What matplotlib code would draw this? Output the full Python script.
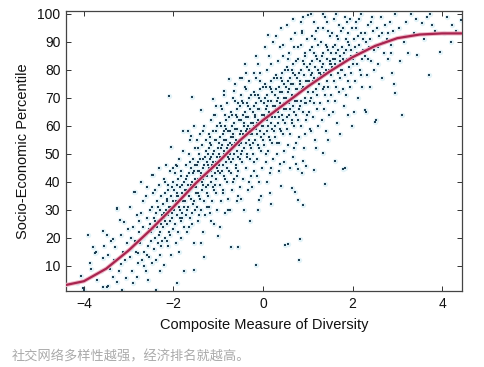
import matplotlib
matplotlib.use("Agg")
import matplotlib.pyplot as plt

plt.rcParams['font.family'] = ['Liberation Sans', 'DejaVu Sans']

# fitted curve
curve_x = [-4.45, -4.0, -3.5, -3.0, -2.5, -2.0, -1.5, -1.0, -0.5, 0.0,
           0.5, 1.0, 1.5, 2.0, 2.5, 3.0, 3.5, 4.0, 4.45]
curve_y = [3.0, 4.5, 9.0, 15.5, 23.0, 31.0, 39.5, 47.0, 55.0, 62.0,
           68.0, 74.0, 79.5, 84.5, 88.5, 91.3, 92.6, 93.0, 93.0]

# scatter points "x,y", estimated column by column
left_pts = """
-4.06,6.4 -4.02,2.1 -3.99,1.4 -4.15,4
-3.91,21.1 -3.87,11 -3.80,16.9 -3.76,14.5 -3.74,14.8 -3.57,22.5 -3.48,21.1 -3.57,12.7 -3.57,2.6 -3.49,2.6 -3.46,2.9 -3.62,8 -3.7,5 -3.85,9 -3.55,17
-3.39,18.8 -3.35,19.5 -3.31,16.9 -3.27,30.2 -3.26,30.6 -3.27,4.4 -3.2,26.4 -3.16,21.1 -3.11,25.8 -3.08,12.1 -3.05,5.6 -3.15,1.4 -3.42,9 -3.33,12 -3.22,8 -3.12,15 -3.03,18 -3.45,14 -3.18,10.5 -3.01,23 -3.36,6
-2.98,13 -2.95,20 -2.93,8 -2.9,24 -2.88,36.5 -2.86,36.3 -2.84,15 -2.82,28 -2.8,14.5 -2.78,11 -2.76,22 -2.97,31 -2.91,4 -2.85,19 -2.77,26 -2.81,6 -2.94,16
-2.74,18 -2.72,29 -2.7,12 -2.69,24 -2.67,33 -2.65,15 -2.63,21 -2.62,8 -2.6,27 -2.58,38 -2.57,17 -2.55,23 -2.54,13 -2.52,30 -2.51,19 -2.73,40 -2.66,10 -2.61,35 -2.56,5 -2.53,25 -2.68,20 -2.59,14
-2.49,22 -2.48,31 -2.47,42.5 -2.46,42.3 -2.45,36 -2.44,16 -2.43,27 -2.42,20 -2.41,37 -2.4,1.5 -2.39,29 -2.38,12 -2.37,24 -2.36,33 -2.35,18 -2.34,26 -2.33,39 -2.32,21 -2.31,30 -2.3,14 -2.29,8 -2.28,25 -2.27,35 -2.26,19 -2.25,28 -2.46,23 -2.41,26 -2.35,31 -2.3,22 -2.27,17 -2.33,45 -2.48,11
-2.24,24 -2.23,32 -2.22,41 -2.21,10.4 -2.2,27 -2.19,36 -2.18,20 -2.17,30 -2.16,46 -2.15,25 -2.14,34 -2.13,17 -2.12,28 -2.11,39 -2.1,70.7 -2.1,22 -2.09,31 -2.08,44 -2.07,26 -2.06,52.4 -2.06,35 -2.05,14 -2.04,29 -2.03,38 -2.02,44.9 -2.02,23 -2.01,33 -2.22,29 -2.19,26 -2.15,33 -2.12,37 -2.08,21 -2.05,31 -2.03,27 -2.18,40 -2.14,19 -2.1,30 -2.0,40
-1.99,30 -1.98,37 -1.97,25 -1.96,43 -1.95,33 -1.94,18 -1.93,39 -1.92,28 -1.91,45.5 -1.91,3.8 -1.9,35 -1.89,22 -1.88,31 -1.87,48 -1.86,38 -1.85,27 -1.84,34 -1.83,42 -1.82,20 -1.81,36 -1.8,29 -1.79,51 -1.78,58 -1.78,33 -1.77,40 -1.76,8 -1.76,24 -1.75,37 -1.97,32 -1.93,35 -1.9,41 -1.86,30 -1.83,26 -1.8,39 -1.95,46 -1.88,15 -1.84,44 -1.77,31 -1.92,36 -1.81,27
-1.74,33 -1.73,41 -1.72,28 -1.71,46 -1.7,36 -1.69,22 -1.68,39 -1.67,31 -1.66,50 -1.65,43 -1.64,27 -1.63,37 -1.62,55 -1.61,56.4 -1.61,34 -1.6,45 -1.59,70.2 -1.59,25 -1.58,40 -1.57,32 -1.56,48 -1.55,18 -1.54,38 -1.53,8.6 -1.53,44 -1.52,30 -1.51,52 -1.5,36 -1.72,37 -1.69,42 -1.66,35 -1.63,47 -1.6,39 -1.57,43 -1.54,33 -1.51,41 -1.7,30 -1.65,24 -1.58,29 -1.52,46 -1.67,58 -1.55,60
"""

mid_pts = """
-1.49,38 -1.48,46 -1.47,31 -1.46,52 -1.45,41 -1.44,26 -1.43,44 -1.42,35 -1.41,57 -1.4,48 -1.39,65.7 -1.39,30 -1.38,42 -1.37,37 -1.36,53 -1.35,22 -1.34,45 -1.33,39 -1.32,60 -1.31,13.3 -1.31,33 -1.3,49 -1.29,28 -1.28,43 -1.27,55 -1.26,36 -1.25,47 -1.48,40 -1.45,44 -1.42,50 -1.39,43 -1.36,40 -1.33,48 -1.3,42 -1.27,38 -1.47,55 -1.43,28 -1.4,34 -1.35,58 -1.32,46 -1.28,51 -1.44,36 -1.38,18 -1.26,31 -1.46,47 -1.34,41
-1.24,42 -1.23,50 -1.22,35 -1.21,57 -1.2,45 -1.19,29 -1.18,48 -1.17,40 -1.16,62 -1.15,53 -1.14,33 -1.13,46 -1.12,69.5 -1.12,38 -1.11,58 -1.1,25 -1.09,51 -1.08,43 -1.07,64 -1.06,36 -1.05,55 -1.04,47 -1.03,30 -1.02,60 -1.01,20.5 -1.01,44 -1.0,52 -1.23,46 -1.2,52 -1.17,49 -1.14,42 -1.11,47 -1.08,55 -1.05,41 -1.02,49 -1.22,39 -1.18,56 -1.15,44 -1.12,50 -1.09,37 -1.06,58 -1.03,45 -1.21,31 -1.16,26 -1.1,64 -1.04,67 -1.19,54 -1.07,39
-0.99,46 -0.98,54 -0.97,39 -0.96,61 -0.95,49 -0.94,33 -0.93,52 -0.92,44 -0.91,66 -0.9,57 -0.89,37 -0.88,50 -0.87,71 -0.86,72.3 -0.86,42 -0.85,60 -0.84,29 -0.83,55 -0.82,47 -0.81,68 -0.8,40 -0.79,58 -0.78,51 -0.77,34 -0.76,63 -0.75,76.7 -0.75,48 -0.98,50 -0.95,56 -0.92,53 -0.89,46 -0.86,51 -0.83,59 -0.8,45 -0.77,53 -0.97,43 -0.94,60 -0.91,48 -0.88,55 -0.85,41 -0.82,62 -0.79,49 -0.76,44 -0.96,24 -0.9,36 -0.84,64 -0.78,30 -0.93,67 -0.81,52 -0.87,58
-0.74,50 -0.73,58 -0.72,43 -0.71,16.9 -0.71,65 -0.7,53 -0.69,37 -0.68,56 -0.67,48 -0.66,70 -0.65,72.3 -0.65,61 -0.64,41 -0.63,54 -0.62,75 -0.61,46 -0.6,64 -0.59,33 -0.58,59 -0.57,51 -0.56,16.9 -0.56,68 -0.55,44 -0.54,62 -0.53,55 -0.52,77 -0.52,38 -0.51,67 -0.5,50 -0.73,54 -0.7,60 -0.67,57 -0.64,50 -0.61,55 -0.58,63 -0.55,49 -0.52,57 -0.72,47 -0.69,64 -0.66,52 -0.63,59 -0.6,45 -0.57,66 -0.54,53 -0.51,48 -0.74,30 -0.68,40 -0.62,69 -0.56,35 -0.5,71 -0.71,56 -0.59,42
-0.49,54 -0.48,62 -0.47,47 -0.46,69 -0.45,57 -0.44,41 -0.43,60 -0.42,52 -0.41,74 -0.4,65 -0.39,45 -0.38,58 -0.37,79 -0.36,50 -0.35,68 -0.34,37 -0.33,63 -0.32,55 -0.31,76 -0.3,48 -0.29,66 -0.28,59 -0.27,42 -0.26,71 -0.25,61 -0.48,58 -0.45,64 -0.42,61 -0.39,54 -0.36,59 -0.33,67 -0.3,53 -0.27,61 -0.47,51 -0.44,68 -0.41,56 -0.38,63 -0.35,49 -0.32,70 -0.29,57 -0.26,52 -0.49,34 -0.43,30 -0.37,73 -0.31,40 -0.46,77 -0.34,60 -0.4,82 -0.28,26
-0.24,57 -0.23,65 -0.22,50 -0.21,72 -0.2,60 -0.19,78.8 -0.19,44 -0.18,63 -0.17,55 -0.16,77 -0.15,10.4 -0.15,68 -0.14,48 -0.13,61 -0.12,82 -0.11,53 -0.1,71 -0.09,40 -0.08,33.6 -0.08,66 -0.07,58 -0.06,79 -0.05,51 -0.04,34.8 -0.04,69 -0.03,62 -0.02,45 -0.01,74 0.0,64 -0.23,61 -0.2,67 -0.17,64 -0.14,57 -0.11,62 -0.08,70 -0.05,56 -0.02,64 -0.22,54 -0.18,71 -0.15,59 -0.12,66 -0.09,52 -0.06,73 -0.03,60 -0.01,55 -0.24,38 -0.16,85 -0.1,30 -0.07,76 -0.21,47 -0.13,42
"""

right_pts = """
0.01,60 0.02,68 0.03,53 0.04,75 0.05,63 0.06,47 0.07,66 0.08,58 0.09,80 0.1,71 0.11,92.5 0.11,51 0.12,64 0.13,85 0.14,56 0.15,74 0.16,43 0.17,32.1 0.17,69 0.18,61 0.19,82 0.2,54 0.21,72 0.22,65 0.23,48 0.24,77 0.25,67 0.02,64 0.05,70 0.08,67 0.11,60 0.14,65 0.17,73 0.2,59 0.23,67 0.03,57 0.06,74 0.09,62 0.12,69 0.15,55 0.18,76 0.21,63 0.24,58 0.04,88 0.1,40 0.16,36 0.22,90 0.07,50 0.19,45
0.26,63 0.27,71 0.28,56 0.29,78 0.3,66 0.31,50 0.32,69 0.33,61 0.34,83 0.35,74 0.36,54 0.37,67 0.38,88 0.38,46.4 0.39,59 0.4,77 0.4,38.6 0.42,72 0.43,64 0.44,85 0.45,57 0.46,75 0.47,68 0.48,51 0.49,80 0.49,17.5 0.5,70 0.27,67 0.3,73 0.33,70 0.36,63 0.39,68 0.42,76 0.45,62 0.48,70 0.28,60 0.31,77 0.34,65 0.37,72 0.4,58 0.43,79 0.46,66 0.49,61 0.29,92 0.35,44 0.41,95 0.47,47 0.32,54 0.44,89
0.51,66 0.52,74 0.53,59 0.54,81 0.55,69 0.56,17.9 0.56,53 0.57,72 0.58,64 0.59,86 0.6,77 0.61,57 0.62,70 0.63,91 0.64,37.7 0.64,62 0.65,80 0.66,49 0.67,75 0.68,67 0.69,88 0.7,60 0.71,36.5 0.71,78 0.72,71 0.73,46.4 0.73,54 0.74,83 0.75,73 0.52,70 0.55,76 0.58,73 0.61,66 0.64,71 0.67,79 0.7,65 0.73,73 0.53,63 0.56,80 0.59,68 0.62,75 0.65,61 0.68,82 0.71,69 0.74,64 0.54,96 0.6,45 0.66,98 0.72,93 0.57,84 0.69,52
0.76,69 0.77,77 0.78,62 0.79,44.5 0.79,33.6 0.79,84 0.8,72 0.81,12.1 0.81,56 0.82,19.5 0.82,75 0.83,67 0.84,89 0.85,80 0.86,60 0.87,73 0.88,43.3 0.88,94 0.89,65 0.9,47.3 0.9,31.8 0.9,83 0.91,52 0.92,78 0.93,70 0.94,57 0.95,86 0.96,76 0.97,45.5 0.97,68 0.98,91 0.99,81 1.0,74 0.77,73 0.8,79 0.83,76 0.86,69 0.89,74 0.92,82 0.95,68 0.98,76 0.78,88 0.84,97 0.9,99 0.96,62 0.81,66 0.87,93 0.93,85 0.99,64
1.01,99.6 1.01,72 1.02,80 1.03,65 1.04,87 1.05,75 1.06,59 1.07,58.2 1.07,78 1.08,70 1.09,92 1.1,83 1.11,63 1.12,76 1.13,97 1.14,68 1.15,44.3 1.15,86 1.16,55 1.17,81 1.18,73 1.19,94 1.2,66 1.21,84 1.22,77 1.23,60 1.24,89 1.25,79 1.03,76 1.06,82 1.09,79 1.12,72 1.15,77 1.18,85 1.21,71 1.24,80 1.04,69 1.1,88 1.16,91 1.22,95 1.07,100 1.19,52
1.26,75 1.27,83 1.28,68 1.29,90 1.3,78 1.31,62 1.32,81 1.33,73 1.34,95 1.35,50.4 1.35,86 1.36,66 1.37,79 1.38,99 1.39,39.3 1.39,71 1.4,89 1.41,58 1.42,84 1.43,76 1.44,97 1.45,69 1.46,55 1.46,87 1.47,80 1.48,64 1.49,92 1.5,82 1.28,79 1.31,85 1.34,82 1.37,74 1.4,80 1.43,88 1.46,74 1.49,83 1.33,100 1.45,94
1.51,78 1.52,86 1.53,71 1.54,93 1.55,81 1.56,65 1.57,84 1.58,76 1.59,98 1.6,89 1.61,47.3 1.61,69 1.62,82 1.63,100 1.64,74 1.65,92 1.66,61 1.67,87 1.68,79 1.69,96 1.7,72 1.71,85 1.72,83 1.73,57 1.74,94 1.75,80 1.53,82 1.56,88 1.6,84 1.64,86 1.68,91 1.72,77
1.76,80 1.77,88 1.78,44.6 1.78,73 1.79,95 1.8,83 1.81,67 1.82,86 1.83,78 1.84,44.9 1.84,99 1.85,91 1.86,71 1.87,84 1.88,97 1.89,76 1.9,93 1.91,64 1.92,89 1.93,81 1.94,98 1.95,74 1.96,87 1.97,85 1.98,60 1.99,95 2.0,82 1.79,84 1.85,87 1.91,90 1.97,79
2.02,84 2.04,91 2.06,76 2.08,97 2.1,86 2.12,70 2.14,89 2.16,80 2.18,100 2.2,93 2.22,74 2.24,87 2.03,65 2.07,95 2.11,82 2.15,98 2.19,78 2.23,91 2.05,88 2.13,92 2.21,84
2.27,85 2.28,65.7 2.29,93 2.31,65.1 2.32,78 2.34,96 2.36,88 2.38,74 2.4,91 2.42,83 2.44,99 2.46,94 2.48,80 2.3,90 2.35,84 2.41,97 2.47,87
2.51,61.5 2.53,62.1 2.52,89 2.55,95 2.58,82 2.6,92 2.63,99 2.65,77 2.68,90 2.7,86 2.73,96 2.57,88 2.66,93
2.77,91 2.8,84 2.83,97 2.86,89 2.88,79 2.92,74.8 2.96,71.7 2.9,94 2.94,100 2.79,93 2.85,86
3.07,83 3.11,63.9 3.04,95 3.15,90 3.2,97 3.25,86 3.3,100 3.38,93 3.45,85.4 3.42,98 3.18,92
3.56,96.7 3.6,91 3.71,78.2 3.74,100 3.78,96.1 3.85,94 3.96,86.5 3.66,99
4.19,90.1 4.23,96 4.1,99 4.32,94 4.42,97.8 4.05,93
"""

x_ticks = [-4, -2, 0, 2, 4]
y_ticks = [10, 20, 30, 40, 50, 60, 70, 80, 90, 100]
x_label = "Composite Measure of Diversity"
y_label = "Socio-Economic Percentile"
caption = "社交网络多样性越强，经济排名就越高。"


def parse(block):
    xs, ys = [], []
    for tok in block.split():
        a, b = tok.split(",")
        xs.append(float(a))
        ys.append(float(b))
    return xs, ys


div, pct = [], []
for block in (left_pts, mid_pts, right_pts):
    a, b = parse(block)
    div += a
    pct += b

fig = plt.figure(figsize=(4.85, 3.67), dpi=100)
ax = fig.add_axes([0.136, 0.207, 0.817, 0.763])

# soft halo like the original's jpeg glow, then the dots
ax.scatter(div, pct, s=15, marker='o', color='#e2f3f8', linewidths=0, zorder=1)
ax.scatter(div, pct, s=4.5, marker='s', color='#203f52', linewidths=0, zorder=2)
ax.plot(curve_x, curve_y, color='#f0b8c8', lw=3.0, zorder=3, solid_capstyle='butt')
ax.plot(curve_x, curve_y, color='#a8244f', lw=1.6, zorder=4, solid_capstyle='butt')

ax.set_xlim(-4.4, 4.45)
ax.set_ylim(1, 101)
ax.set_xticks(x_ticks)
ax.set_xticklabels(["\u22124", "\u22122", "0", "2", "4"])
ax.set_yticks(y_ticks)
ax.tick_params(direction='in', top=True, right=True, length=3.5, width=0.7,
               labelsize=10, colors='#333333', labelcolor='#111111', pad=4)
for sp in ax.spines.values():
    sp.set_color('#444444')
    sp.set_linewidth(0.9)

ax.set_xlabel(x_label, fontsize=10.5, color='#111111', labelpad=5)
ax.set_ylabel(y_label, fontsize=10.5, color='#111111', labelpad=5)

fig.text(0.025, 0.018, caption, fontsize=9.5, color='#aaaaaa',
         family=['Noto Sans CJK SC', 'DejaVu Sans'])

fig.savefig("out.png", dpi=100)
